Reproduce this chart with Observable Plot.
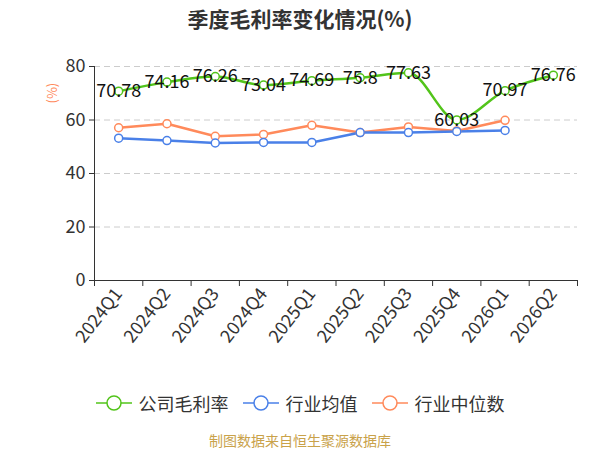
<!DOCTYPE html>
<html><head><meta charset="utf-8">
<script src="https://cdn.jsdelivr.net/npm/d3@7"></script>
<script src="https://cdn.jsdelivr.net/npm/@observablehq/plot@0.6"></script>
<style>
body{margin:0;width:600px;height:450px;background:#fff;font-family:"Noto Sans CJK SC","Noto Sans",sans-serif;overflow:hidden}
#title{height:40px;line-height:36px;text-align:center;font-size:21px;font-weight:bold;color:#333}
#legend{display:flex;justify-content:center;align-items:center;height:30px;margin-top:8px;font-size:18px;color:#333;gap:14px}
.item{display:flex;align-items:center;gap:7px}
#caption{text-align:center;font-size:14px;color:#c9a24a;margin-top:12px}
</style></head><body>
<div id="title">季度毛利率变化情况(%)</div>
<div id="chart"></div>
<div id="legend"></div>
<div id="caption">制图数据来自恒生聚源数据库</div>
<script>
const quarters = ["2024Q1","2024Q2","2024Q3","2024Q4","2025Q1","2025Q2","2025Q3","2025Q4","2026Q1","2026Q2"];
const company = [70.78,74.16,76.26,73.04,74.69,75.8,77.63,60.03,70.97,76.76];
const industryAvg = [53.2,52.3,51.4,51.6,51.6,55.3,55.3,55.7,56.1];
const industryMedian = [57.1,58.6,53.9,54.6,58.0,55.3,57.4,55.9,59.9];
const yTicks = [0,20,40,60,80];
const seriesNames = ["公司毛利率","行业均值","行业中位数"];
const colors = ["#52c41a","#4a80e8","#ff8a5b"];

const toRows = (arr, s) => arr.map((v,i)=>({i, x:i+0.5, q:quarters[i], v, s}));
const cRows = toRows(company, seriesNames[0]);
const aRows = toRows(industryAvg, seriesNames[1]);
const mRows = toRows(industryMedian, seriesNames[2]);
const bounds = d3.range(quarters.length+1);
const centers = quarters.map((q,i)=>i+0.5);

const chart = Plot.plot({
  width:600, height:340,
  marginTop:26, marginBottom:100, marginLeft:94, marginRight:23,
  style:{fontFamily:'"Noto Sans CJK SC","Noto Sans",sans-serif', fontSize:"18px", color:"#333"},
  x:{domain:[0,quarters.length]},
  y:{domain:[0,80]},
  marks:[
    Plot.ruleY(yTicks.filter(d=>d>0), {stroke:"#ccc", strokeDasharray:"6,4", strokeWidth:1}),
    Plot.axisY({ticks:yTicks, tickSize:5, tickPadding:4, label:null, fontSize:18, color:"#333"}),
    Plot.ruleX([0], {stroke:"#333", strokeWidth:1}),
    Plot.ruleY([0], {stroke:"#333", strokeWidth:1}),
    Plot.axisX({ticks:bounds, tickSize:6, tickFormat:()=>"", label:null}),
    Plot.axisX({ticks:centers, tickSize:0, tickPadding:10, tickRotate:-52, tickFormat:d=>quarters[Math.floor(d)], label:null, fontSize:18, color:"#333"}),
    Plot.text(["(%)"], {frameAnchor:"top-left", dx:-47, dy:37, rotate:-90, fill:"#ff8a5b", fontSize:13}),
    Plot.line(mRows, {x:"x", y:"v", stroke:colors[2], strokeWidth:2.5}),
    Plot.line(aRows, {x:"x", y:"v", stroke:colors[1], strokeWidth:2.5}),
    Plot.line(cRows, {x:"x", y:"v", stroke:colors[0], strokeWidth:2.5, curve:"monotone-x"}),
    Plot.dot(mRows, {x:"x", y:"v", r:4, fill:"white", stroke:colors[2], strokeWidth:1.5}),
    Plot.dot(aRows, {x:"x", y:"v", r:4, fill:"white", stroke:colors[1], strokeWidth:1.5}),
    Plot.dot(cRows, {x:"x", y:"v", r:4, fill:"white", stroke:colors[0], strokeWidth:1.5}),
    Plot.text(cRows, {x:"x", y:"v", text:d=>String(d.v), fill:"#111", fontSize:18})
  ]
});
document.getElementById("chart").appendChild(chart);

const leg = document.getElementById("legend");
seriesNames.forEach((n,k)=>{
  const it = document.createElement("div"); it.className="item";
  it.innerHTML = `<svg width="36" height="18"><line x1="0" x2="36" y1="9" y2="9" stroke="${colors[k]}" stroke-width="1.5"/><circle cx="18" cy="9" r="7" fill="white" stroke="${colors[k]}" stroke-width="1.5"/></svg><span>${n}</span>`;
  leg.appendChild(it);
});
</script></body></html>
